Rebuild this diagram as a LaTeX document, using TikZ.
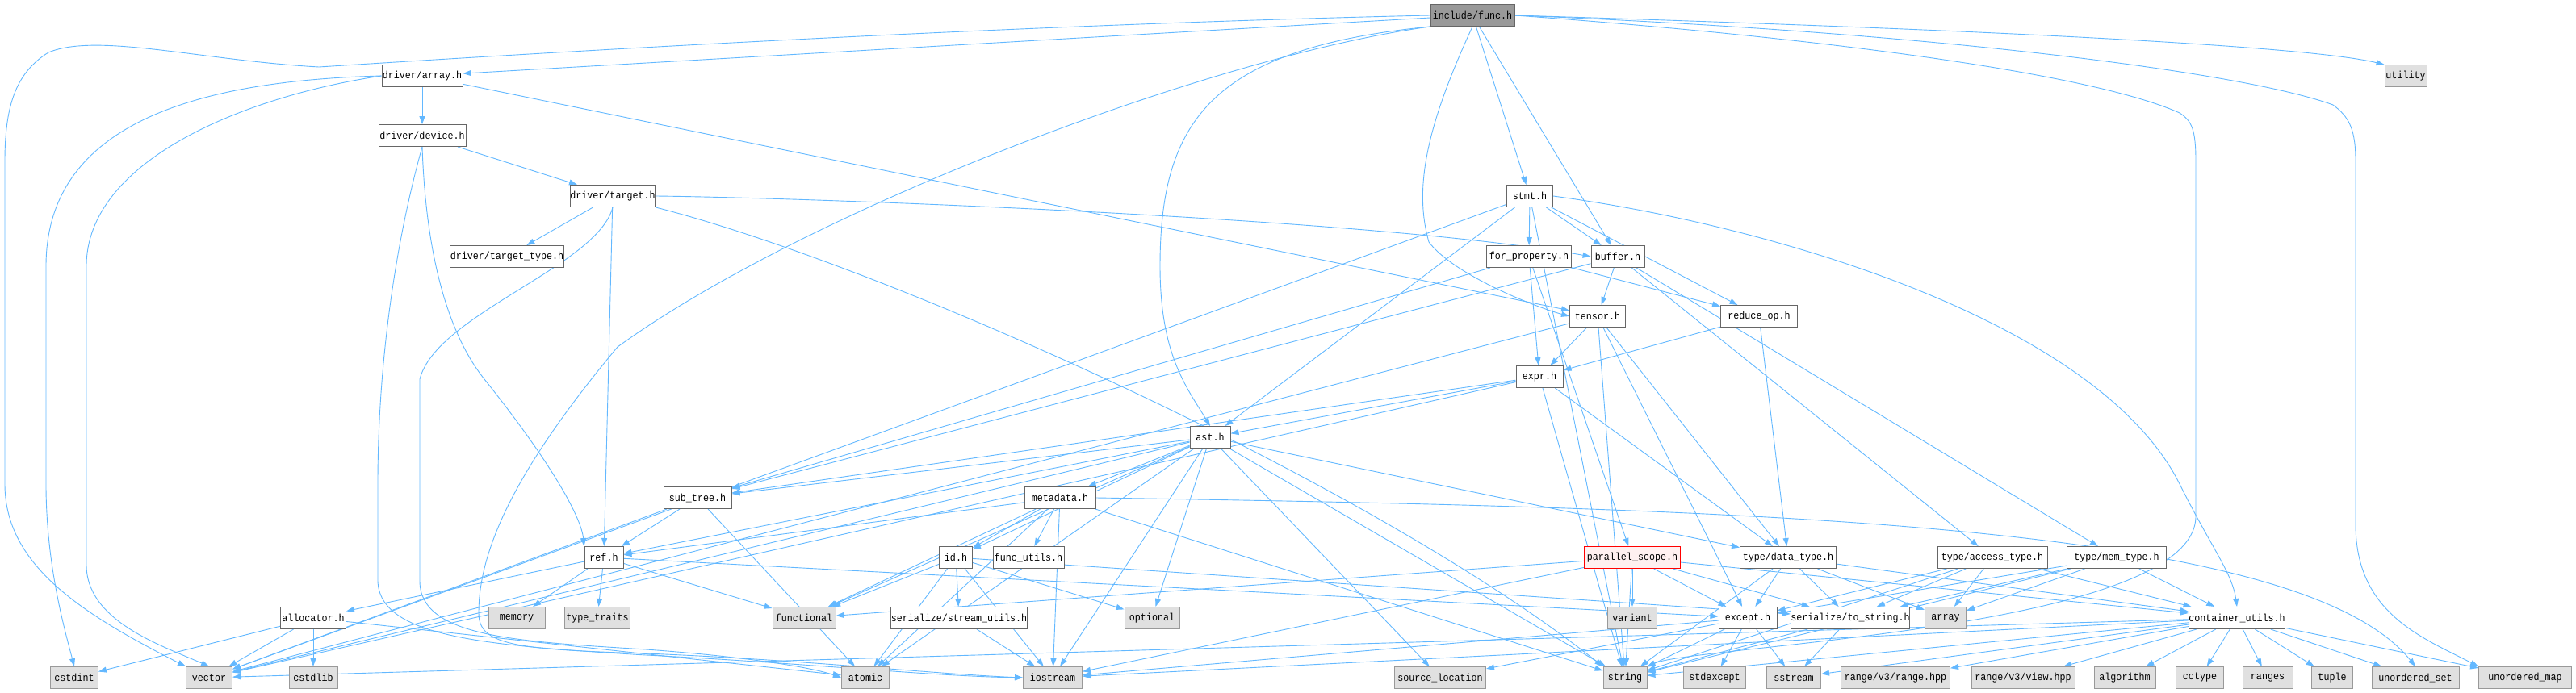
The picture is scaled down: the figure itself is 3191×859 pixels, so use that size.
\documentclass[tikz,border=0pt]{standalone}
\usepackage{fontspec}
\newfontfamily\lblfont[FakeStretch=0.9]{Liberation Mono}
\usetikzlibrary{arrows.meta}
\pgfdeclarelayer{background}
\pgfsetlayers{background,main}
\definecolor{edgec}{HTML}{63B8FF}
\definecolor{bord}{HTML}{666666}
\definecolor{extb}{HTML}{999999}
\definecolor{extf}{HTML}{E0E0E0}
\definecolor{rootf}{HTML}{999999}
\definecolor{psf}{HTML}{FFF0F0}
\tikzset{
  box/.style={draw=bord, fill=white, line width=1pt, minimum height=27pt, inner sep=0pt,
    font=\lblfont\fontsize{13}{13}\selectfont},
  ext/.style={box, draw=extb, fill=extf},
  rootbox/.style={box, fill=rootf},
  psbox/.style={box, draw=red, fill=psf},
  e/.style={draw=edgec, line width=0.9pt, -{Triangle[length=10pt,width=7pt]}}
}
\begin{document}
\begin{tikzpicture}[x=1pt,y=-1pt]
\useasboundingbox (0,0) rectangle (3191,859);
% ---------- nodes ----------
\node[rootbox, minimum width=104pt] (F) at (1824,19) {include/func.h};
\node[box, minimum width=100pt] (A) at (523,94) {driver/array.h};
\node[ext, minimum width=52pt] (utility) at (2980,94) {utility};
\node[box, minimum width=108pt] (dev) at (523,168) {driver/device.h};
\node[box, minimum width=104pt] (tgt) at (759,243) {driver/target.h};
\node[box, minimum width=57pt] (stmt) at (1895,243) {stmt.h};
\node[box, minimum width=136pt] (tt) at (628,318) {driver/target\_type.h};
\node[box, minimum width=105pt] (fp) at (1894,318) {for\_property.h};
\node[box, minimum width=66pt] (buf) at (2004,318) {buffer.h};
\node[box, minimum width=69pt] (ten) at (1979,392) {tensor.h};
\node[box, minimum width=95pt] (rop) at (2179,392) {reduce\_op.h};
\node[box, minimum width=58pt] (expr) at (1907,467) {expr.h};
\node[box, minimum width=50pt] (ast) at (1499,542) {ast.h};
\node[box, minimum width=84pt] (sub) at (864,617) {sub\_tree.h};
\node[box, minimum width=88pt] (meta) at (1313,617) {metadata.h};
\node[box, minimum width=48pt] (ref) at (748,691) {ref.h};
\node[box, minimum width=41pt] (id) at (1184,691) {id.h};
\node[box, minimum width=88pt] (fu) at (1274,691) {func\_utils.h};
\node[psbox, minimum width=119pt] (ps) at (2022,691) {parallel\_scope.h};
\node[box, minimum width=119pt] (dt) at (2215,691) {type/data\_type.h};
\node[box, minimum width=136pt] (at) at (2468,691) {type/access\_type.h};
\node[box, minimum width=123pt] (mt) at (2622,691) {type/mem\_type.h};
\node[box, minimum width=81pt] (alloc) at (388,766) {allocator.h};
\node[ext, minimum width=70pt] (memory) at (640,766) {memory};
\node[ext, minimum width=81pt] (ttr) at (740,766) {type\_traits};
\node[ext, minimum width=78pt] (func) at (996,766) {functional};
\node[box, minimum width=157pt] (su) at (1188,766) {serialize/stream\_utils.h};
\node[ext, minimum width=68pt] (optional) at (1427,766) {optional};
\node[ext, minimum width=61pt] (variant) at (2022,766) {variant};
\node[box, minimum width=72pt] (exc) at (2165,766) {except.h};
\node[box, minimum width=135pt] (ts) at (2292,766) {serialize/to\_string.h};
\node[ext, minimum width=51pt] (arr) at (2410,766) {array};
\node[box, minimum width=118pt] (cu) at (2771,766) {container\_utils.h};
\node[ext, minimum width=59pt] (cstdint) at (92,840) {cstdint};
\node[ext, minimum width=57pt] (vector) at (259,840) {vector};
\node[ext, minimum width=60pt] (cstdlib) at (388,840) {cstdlib};
\node[ext, minimum width=59pt] (atomic) at (1072,840) {atomic};
\node[ext, minimum width=73pt] (iostream) at (1304,840) {iostream};
\node[ext, minimum width=113pt] (sl) at (1784,840) {source\_location};
\node[ext, minimum width=54pt] (string) at (2013,840) {string};
\node[ext, minimum width=77pt] (stdexcept) at (2124,840) {stdexcept};
\node[ext, minimum width=67pt] (sstream) at (2222,840) {sstream};
\node[ext, minimum width=135pt] (rr) at (2348,840) {range/v3/range.hpp};
\node[ext, minimum width=128pt] (rv) at (2506,840) {range/v3/view.hpp};
\node[ext, minimum width=76pt] (algo) at (2632,840) {algorithm};
\node[ext, minimum width=59pt] (cctype) at (2725,840) {cctype};
\node[ext, minimum width=62pt] (ranges) at (2809,840) {ranges};
\node[ext, minimum width=51pt] (tuple) at (2889,840) {tuple};
\node[ext, minimum width=108pt] (uset) at (2992,840) {unordered\_set};
\node[ext, minimum width=115pt] (umap) at (3128,840) {unordered\_map};
\begin{pgfonlayer}{background}
% ---------- long routed edges ----------
\draw[e] (F.west) .. controls (1200,32) and (600,70) .. (395,83) .. controls (250,75) and (120,40) .. (60,65) .. controls (20,90) and (6,130) .. (6,200) -- (6,600) .. controls (6,700) and (100,760) .. (vector.north west);
\draw[e] (A.west) .. controls (250,100) and (57,150) .. (57,330) -- (57,600) .. controls (57,700) and (80,780) .. (cstdint.north);
\draw[e] (A.west) .. controls (300,120) and (107,200) .. (107,330) -- (107,700) .. controls (107,770) and (200,800) .. (vector.north);
\draw[e] (F.south west) .. controls (1500,70) and (1000,260) .. (765,430) .. controls (640,580) and (593,680) .. (593,760) .. controls (593,800) and (640,805) .. (800,810) .. controls (1000,818) and (1150,835) .. (iostream.west);
\draw[e] (dev.south) .. controls (490,300) and (468,450) .. (468,600) -- (468,720) .. controls (470,790) and (600,800) .. (800,812) .. controls (1000,822) and (1150,838) .. (iostream.west);
\draw[e] (dev.south) .. controls (528,330) and (560,420) .. (600,470) .. controls (680,570) and (720,640) .. (ref.north west);
\draw[e] (tgt.south) .. controls (740,330) and (540,390) .. (520,470) -- (520,720) .. controls (520,790) and (640,795) .. (800,805) .. controls (900,812) and (1000,825) .. (atomic.west);
\draw[e] (tgt.south east) .. controls (1100,330) and (1700,600) .. (string.north west);
\draw[e] (F.south west) .. controls (1500,60) and (1437,150) .. (1437,330) .. controls (1437,440) and (1470,480) .. (ast.north);
\draw[e] (F.south) .. controls (1770,150) and (1750,230) .. (1770,300) .. controls (1800,340) and (1900,380) .. (ten.west);
\draw[e] (F.east) .. controls (2300,50) and (2600,95) .. (2700,140) .. controls (2715,150) and (2720,160) .. (2720,200) -- (2720,640) .. controls (2720,780) and (2100,800) .. (string.north east);
\draw[e] (F.east) .. controls (2400,40) and (2780,90) .. (2890,130) .. controls (2910,145) and (2918,160) .. (2918,200) -- (2918,650) .. controls (2918,760) and (3000,790) .. (umap.north west);
\draw[e] (F.east) .. controls (2400,35) and (2850,55) .. (utility.north west);
\draw[e] (stmt.east) .. controls (2200,280) and (2600,400) .. (2700,600) .. controls (2740,680) and (2765,710) .. (cu.north);
\draw[e] (meta.east) .. controls (2200,630) and (2850,650) .. (uset.north);
\draw[e] (tgt.east) .. controls (1000,245) and (1700,270) .. (buf.west);
% ---------- straight edges ----------
\foreach \a/\b in {F/A, F/stmt, F/buf,
  A/dev, A/ten,
  dev/tgt,
  tgt/tt, tgt/ref,
  stmt/fp, stmt/buf, stmt/rop, stmt/ast, stmt/vector, stmt/string,
  fp/ps, fp/rop, fp/expr, fp/sub,
  buf/ten, buf/sub, buf/at, buf/mt,
  ten/expr, ten/vector, ten/string, ten/dt, ten/exc,
  rop/expr, rop/dt,
  expr/ast, expr/vector, expr/sub, expr/string, expr/dt,
  ast/sub, ast/ref, ast/meta, ast/id, ast/func, ast/optional, ast/atomic, ast/iostream, ast/sl, ast/string, ast/dt, ast/vector,
  sub/ref, sub/vector, sub/atomic,
  meta/ref, meta/id, meta/fu, meta/func, meta/atomic, meta/iostream, meta/string,
  id/func, id/su, id/optional, id/atomic, id/iostream, id/ts,
  ref/memory, ref/ttr, ref/func, ref/alloc, ref/exc,
  alloc/cstdint, alloc/vector, alloc/cstdlib, alloc/atomic,
  su/iostream,
  ps/variant, ps/exc, ps/ts, ps/cu, ps/string, ps/iostream, ps/func,
  dt/exc, dt/ts, dt/arr, dt/cu, dt/string,
  at/exc, at/ts, at/arr, at/cu, at/string,
  mt/exc, mt/ts, mt/arr, mt/cu, mt/string,
  exc/stdexcept, exc/sstream, exc/string, exc/sl, exc/iostream,
  ts/sstream, ts/string,
  cu/rr, cu/rv, cu/algo, cu/cctype, cu/ranges, cu/tuple, cu/uset, cu/umap, cu/string, cu/vector, cu/iostream, cu/sstream}
  {\draw[e] (\a) -- (\b);}
\end{pgfonlayer}
\end{tikzpicture}
\end{document}
